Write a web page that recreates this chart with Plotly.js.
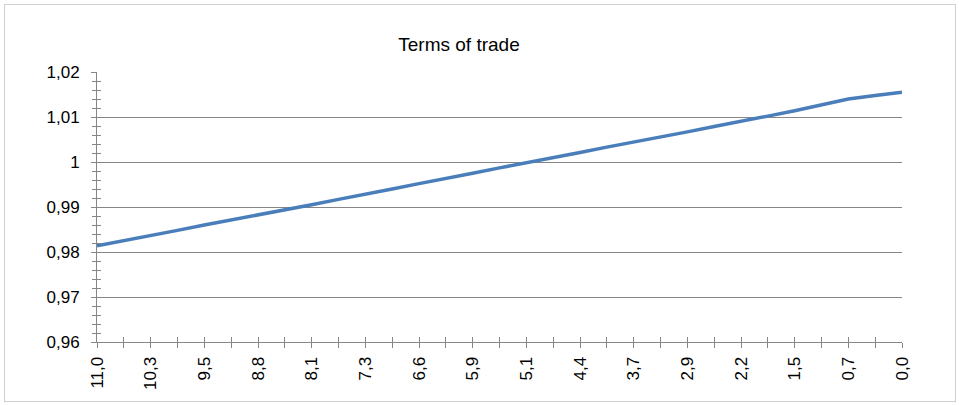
<!DOCTYPE html>
<html>
<head>
<meta charset="utf-8">
<script src="https://cdn.plot.ly/plotly-3.0.1.min.js"></script>
<style>
  html, body { margin: 0; padding: 0; background: #ffffff; }
  #wrap { position: relative; width: 959px; height: 405px; }
  #chart { position: absolute; left: 0; top: 0; width: 959px; height: 405px; }
  #frame { position: absolute; left: 4px; top: 4px; width: 952px; height: 398px;
           border: 1px solid #d0d0d0; box-sizing: border-box; pointer-events: none; }
</style>
</head>
<body>
<div id="wrap"><div id="chart"></div><div id="frame"></div></div>
<script>
// Categories (x axis, years remaining, decimal comma as in the source)
const categories = ["11,0","10,6","10,3","9,9","9,5","9,2","8,8","8,4","8,1","7,7",
                    "7,3","7,0","6,6","6,2","5,9","5,5","5,1","4,8","4,4","4,0",
                    "3,7","3,3","2,9","2,6","2,2","1,8","1,5","1,1","0,7","0,4","0,0"];
// Terms of trade series values
const termsOfTrade = [0.9814,0.9825,0.9837,0.9848,0.9860,0.9871,0.9882,0.9894,0.9905,0.9917,
                      0.9928,0.9940,0.9952,0.9963,0.9975,0.9987,0.9998,1.0010,1.0021,1.0033,
                      1.0044,1.0056,1.0067,1.0079,1.0090,1.0102,1.0114,1.0127,1.0140,1.0148,1.0155];
// Tick labels: every other category is labelled
const xTickText = categories.map((c, i) => (i % 2 === 0 ? c : ""));
const chartTitle = "Terms of trade";

const gray = "#868686";
const font = { family: "Liberation Sans, Arial, sans-serif", size: 17, color: "#000000" };

const traces = [
  {
    x: categories, y: termsOfTrade, type: "scatter", mode: "lines",
    line: { color: "#4a7ebb", width: 3.5 },
    xaxis: "x", yaxis: "y", hoverinfo: "x+y"
  },
  {
    x: categories, y: termsOfTrade, type: "scatter", mode: "lines",
    line: { color: "rgba(0,0,0,0)", width: 0 },
    xaxis: "x2", yaxis: "y2", hoverinfo: "skip", showlegend: false
  }
];

const yRange = [0.96, 1.02];
const xRange = [0, categories.length - 1];

const layout = {
  width: 959, height: 405,
  margin: { l: 97, r: 57, t: 72, b: 63 },
  paper_bgcolor: "#ffffff", plot_bgcolor: "#ffffff",
  separators: ",.",
  showlegend: false,
  font: font,
  title: {
    text: chartTitle,
    font: { family: font.family, size: 19, color: "#000000" },
    x: 459 / 959, xref: "container", xanchor: "center",
    y: 1 - 44 / 405, yref: "container", yanchor: "middle"
  },
  xaxis: {
    type: "category", categoryorder: "array", categoryarray: categories,
    range: xRange, showgrid: false, zeroline: false,
    showline: true, linecolor: gray, linewidth: 1,
    ticks: "outside", ticklen: 5, tickcolor: gray, tickwidth: 1,
    tickmode: "array", tickvals: categories, ticktext: xTickText,
    tickangle: -90, tickfont: font, ticklabelstandoff: 2
  },
  xaxis2: {
    type: "category", categoryorder: "array", categoryarray: categories,
    overlaying: "x", range: xRange, showgrid: false, zeroline: false,
    showline: false, ticks: "inside", ticklen: 5, tickcolor: gray, tickwidth: 1,
    tickmode: "array", tickvals: categories, showticklabels: false
  },
  yaxis: {
    range: yRange, dtick: 0.01, tick0: 0.96,
    showgrid: true, gridcolor: gray, gridwidth: 1, zeroline: false,
    showline: true, linecolor: gray, linewidth: 1,
    ticks: "outside", ticklen: 5, tickcolor: gray, tickwidth: 1,
    tickfont: font, ticklabelstandoff: 8,
    minor: { dtick: 0.002, tick0: 0.96, ticks: "outside", ticklen: 4, tickcolor: gray, tickwidth: 1, showgrid: false }
  },
  yaxis2: {
    overlaying: "y", range: yRange, dtick: 0.01, tick0: 0.96,
    showgrid: false, zeroline: false, showline: false,
    ticks: "inside", ticklen: 5, tickcolor: gray, tickwidth: 1, showticklabels: false,
    minor: { dtick: 0.002, tick0: 0.96, ticks: "inside", ticklen: 4, tickcolor: gray, tickwidth: 1, showgrid: false }
  }
};

Plotly.newPlot("chart", traces, layout, { displayModeBar: false, staticPlot: true });
</script>
</body>
</html>
